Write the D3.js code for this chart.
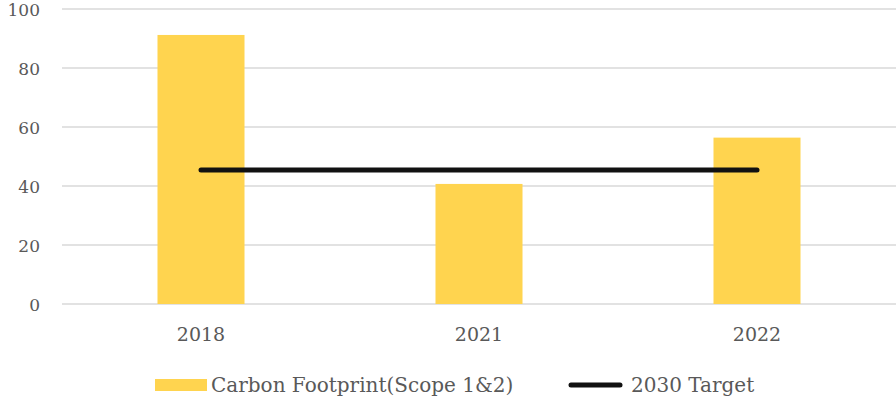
<!DOCTYPE html>
<html>
<head>
<meta charset="utf-8">
<script src="https://cdnjs.cloudflare.com/ajax/libs/d3/7.8.5/d3.min.js"></script>
<style>
  body { margin: 0; background: #fff; }
  text { font-family: "DejaVu Serif", "Liberation Serif", serif; fill: #595959; }
</style>
</head>
<body>
<div id="chart"></div>
<script>
var years = ['2018', '2021', '2022'];
var footprint = [91.2, 40.7, 56.4];
var target = [45.4, 45.4, 45.4];
var yTicks = [0, 20, 40, 60, 80, 100];

var width = 896, height = 401;
var margin = { top: 9, right: 0, bottom: 97, left: 62 };

var svg = d3.select('#chart').append('svg')
    .attr('width', width)
    .attr('height', height);

var x = d3.scaleBand()
    .domain(years)
    .range([margin.left, width - margin.right])
    .paddingInner(0.687)
    .paddingOuter(0.3435);

var xc = d3.scalePoint()
    .domain(years)
    .range([margin.left, width - margin.right])
    .padding(0.5);

var y = d3.scaleLinear()
    .domain([0, 100])
    .range([height - margin.bottom, margin.top]);

// gridlines
svg.append('g')
    .selectAll('line')
    .data(yTicks)
    .enter()
    .append('line')
    .attr('x1', margin.left)
    .attr('x2', width - margin.right)
    .attr('y1', d => y(d))
    .attr('y2', d => y(d))
    .attr('stroke', '#d9d9d9')
    .attr('stroke-width', 1.5);

// y labels
svg.append('g')
    .selectAll('text')
    .data(yTicks)
    .enter()
    .append('text')
    .attr('x', 40)
    .attr('y', d => y(d) + 7)
    .attr('text-anchor', 'end')
    .style('font-size', '17px')
    .text(d => d);

// bars
svg.append('g')
    .selectAll('rect')
    .data(footprint)
    .enter()
    .append('rect')
    .attr('x', (d, i) => x(years[i]))
    .attr('width', x.bandwidth())
    .attr('y', d => y(d))
    .attr('height', d => y(0) - y(d))
    .attr('fill', '#ffd44f');

// target line
var line = d3.line()
    .x((d, i) => xc(years[i]))
    .y(d => y(d));

svg.append('path')
    .datum(target)
    .attr('d', line)
    .attr('fill', 'none')
    .attr('stroke', '#111')
    .attr('stroke-width', 5)
    .attr('stroke-linecap', 'round');

// x labels
svg.append('g')
    .selectAll('text')
    .data(years)
    .enter()
    .append('text')
    .attr('x', d => xc(d))
    .attr('y', 341)
    .attr('text-anchor', 'middle')
    .style('font-size', '19px')
    .text(d => d);

// legend
var legend = svg.append('g');
legend.append('rect')
    .attr('x', 155).attr('y', 379)
    .attr('width', 52).attr('height', 12)
    .attr('fill', '#ffd44f');
legend.append('text')
    .attr('x', 211).attr('y', 392)
    .style('font-size', '20px')
    .text('Carbon Footprint(Scope 1&2)');
legend.append('line')
    .attr('x1', 571).attr('x2', 620)
    .attr('y1', 385).attr('y2', 385)
    .attr('stroke', '#111')
    .attr('stroke-width', 5)
    .attr('stroke-linecap', 'round');
legend.append('text')
    .attr('x', 631).attr('y', 392)
    .style('font-size', '20px')
    .text('2030 Target');
</script>
</body>
</html>
